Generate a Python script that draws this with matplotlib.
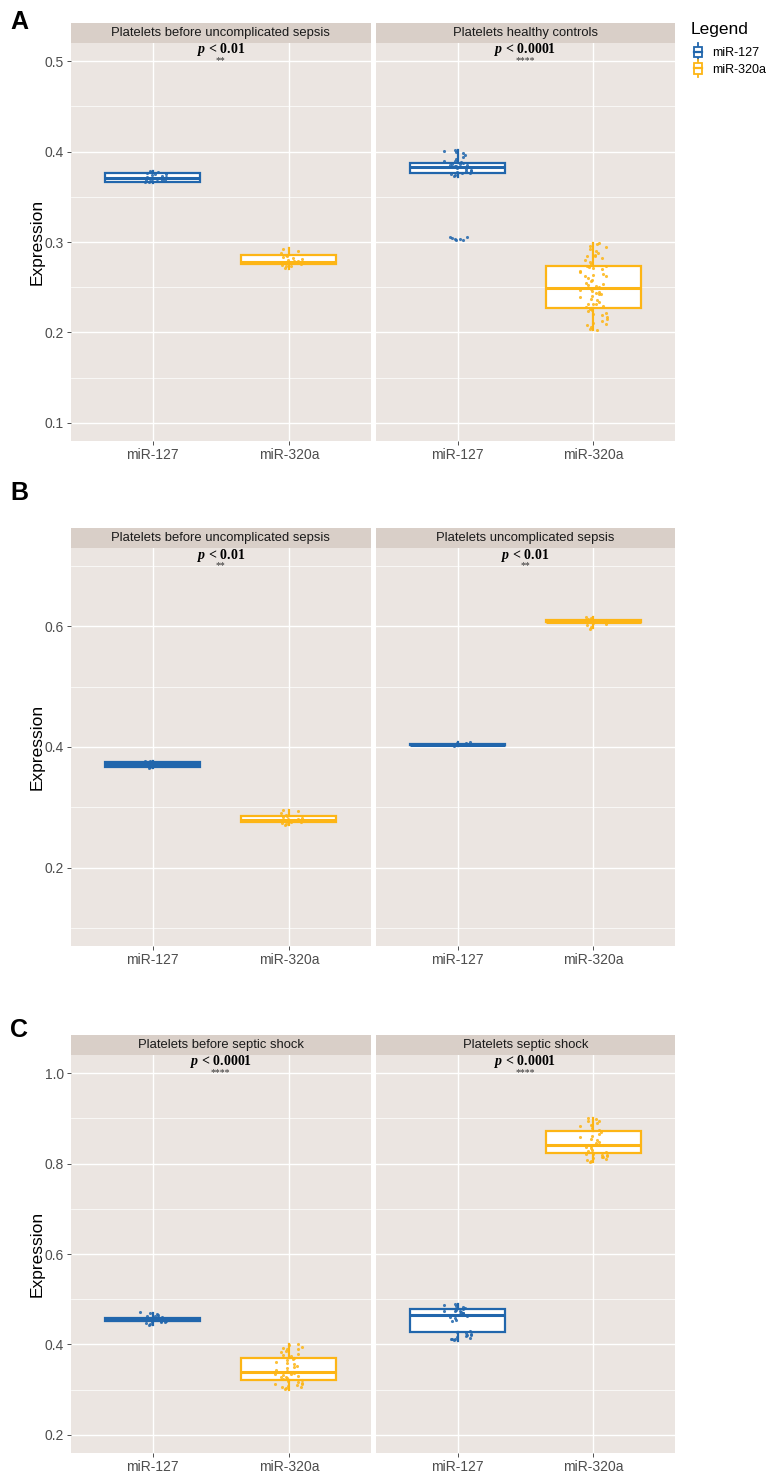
import matplotlib
matplotlib.use("Agg")
import matplotlib.pyplot as plt
import numpy as np
from matplotlib.legend_handler import HandlerBase
from matplotlib.patches import Rectangle, Patch
from matplotlib.lines import Line2D

# ---------------- data ----------------
categories = ["miR-127", "miR-320a"]
series_colors = {"miR-127": "#2166AC", "miR-320a": "#FDB515"}
panel_letters = ["A", "B", "C"]
facet_titles = [
    ["Platelets before uncomplicated sepsis", "Platelets healthy controls"],
    ["Platelets before uncomplicated sepsis", "Platelets uncomplicated sepsis"],
    ["Platelets before septic shock", "Platelets septic shock"],
]
p_values = [["0.01", "0.0001"], ["0.01", "0.01"], ["0.0001", "0.0001"]]
p_stars = [["**", "****"], ["**", "**"], ["****", "****"]]
y_ranges = [(0.1, 0.5), (0.1, 0.7), (0.2, 1.0)]
y_major = [[0.1, 0.2, 0.3, 0.4, 0.5], [0.2, 0.4, 0.6], [0.2, 0.4, 0.6, 0.8, 1.0]]
y_minor = [[0.15, 0.25, 0.35, 0.45], [0.1, 0.3, 0.5, 0.7], [0.3, 0.5, 0.7, 0.9]]

# box stats: (whislo, q1, med, q3, whishi) per panel -> facet -> category
box_A_left_127 = (0.365, 0.3663, 0.371, 0.376, 0.378)
box_A_left_320 = (0.270, 0.2755, 0.278, 0.286, 0.293)
box_A_right_127 = (0.372, 0.3759, 0.3833, 0.387, 0.402)
box_A_right_320 = (0.203, 0.227, 0.249, 0.273, 0.299)
box_B_left_127 = (0.365, 0.367, 0.371, 0.375, 0.377)
box_B_left_320 = (0.270, 0.2755, 0.279, 0.286, 0.295)
box_B_right_127 = (0.402, 0.403, 0.404, 0.405, 0.408)
box_B_right_320 = (0.597, 0.6065, 0.608, 0.611, 0.615)
box_C_left_127 = (0.442, 0.452, 0.455, 0.458, 0.470)
box_C_left_320 = (0.300, 0.322, 0.338, 0.370, 0.400)
box_C_right_127 = (0.408, 0.428, 0.465, 0.478, 0.490)
box_C_right_320 = (0.803, 0.823, 0.840, 0.871, 0.900)

# jittered observations
pts_A_left_127 = [0.366, 0.367, 0.368, 0.369, 0.370, 0.371, 0.371, 0.372, 0.373, 0.374,
                  0.375, 0.376, 0.377, 0.378, 0.366, 0.369, 0.372, 0.375, 0.377, 0.370]
pts_A_left_320 = [0.271, 0.273, 0.275, 0.276, 0.277, 0.277, 0.278, 0.278, 0.279, 0.280,
                  0.281, 0.283, 0.285, 0.286, 0.288, 0.290, 0.292, 0.274, 0.279, 0.282]
pts_A_right_127 = [0.373, 0.374, 0.375, 0.376, 0.377, 0.378, 0.379, 0.380, 0.381, 0.382,
                   0.383, 0.383, 0.384, 0.384, 0.385, 0.385, 0.386, 0.386, 0.387, 0.388,
                   0.389, 0.390, 0.392, 0.394, 0.396, 0.398, 0.400, 0.401, 0.402, 0.376,
                   0.302, 0.303, 0.304, 0.305, 0.306, 0.303, 0.302]
pts_A_right_320 = [0.204, 0.206, 0.208, 0.209, 0.211, 0.213, 0.215, 0.217, 0.219, 0.220,
                   0.222, 0.224, 0.225, 0.227, 0.228, 0.229, 0.231, 0.232, 0.234, 0.236,
                   0.237, 0.239, 0.240, 0.242, 0.243, 0.245, 0.246, 0.247, 0.248, 0.249,
                   0.250, 0.251, 0.252, 0.254, 0.255, 0.257, 0.258, 0.260, 0.262, 0.263,
                   0.265, 0.267, 0.268, 0.270, 0.271, 0.273, 0.274, 0.276, 0.278, 0.280,
                   0.282, 0.284, 0.286, 0.288, 0.290, 0.292, 0.294, 0.296, 0.298, 0.299,
                   0.203, 0.226, 0.249, 0.272, 0.285, 0.244, 0.231, 0.262]
pts_B_left_127 = [0.366, 0.367, 0.368, 0.369, 0.370, 0.370, 0.371, 0.371, 0.372, 0.372,
                  0.373, 0.374, 0.375, 0.376, 0.377, 0.369, 0.371, 0.373]
pts_B_left_320 = [0.270, 0.272, 0.274, 0.275, 0.276, 0.277, 0.278, 0.279, 0.280, 0.281,
                  0.282, 0.284, 0.286, 0.288, 0.291, 0.294, 0.296, 0.276, 0.279]
pts_B_right_127 = [0.402, 0.403, 0.403, 0.404, 0.404, 0.404, 0.405, 0.405, 0.406, 0.407,
                   0.408, 0.403, 0.405]
pts_B_right_320 = [0.596, 0.599, 0.602, 0.604, 0.606, 0.607, 0.608, 0.608, 0.609, 0.610,
                   0.611, 0.612, 0.613, 0.614, 0.615, 0.607, 0.609]
pts_C_left_127 = [0.443, 0.445, 0.447, 0.449, 0.450, 0.451, 0.452, 0.453, 0.454, 0.455,
                  0.455, 0.456, 0.457, 0.458, 0.459, 0.460, 0.462, 0.464, 0.466, 0.468,
                  0.470, 0.472, 0.453, 0.457, 0.450, 0.461]
pts_C_left_320 = [0.301, 0.303, 0.305, 0.307, 0.309, 0.311, 0.313, 0.315, 0.317, 0.319,
                  0.321, 0.323, 0.325, 0.327, 0.329, 0.331, 0.333, 0.335, 0.337, 0.339,
                  0.341, 0.344, 0.347, 0.350, 0.353, 0.356, 0.359, 0.362, 0.365, 0.368,
                  0.371, 0.374, 0.377, 0.380, 0.383, 0.386, 0.389, 0.392, 0.395, 0.398,
                  0.400, 0.334, 0.312, 0.390]
pts_C_right_127 = [0.409, 0.411, 0.413, 0.415, 0.417, 0.419, 0.421, 0.423, 0.425, 0.427,
                   0.430, 0.452, 0.455, 0.458, 0.461, 0.463, 0.465, 0.467, 0.469, 0.471,
                   0.473, 0.475, 0.477, 0.479, 0.481, 0.483, 0.485, 0.487, 0.489, 0.466,
                   0.470, 0.474, 0.412, 0.420]
pts_C_right_320 = [0.804, 0.806, 0.808, 0.810, 0.812, 0.814, 0.816, 0.818, 0.820, 0.822,
                   0.825, 0.828, 0.831, 0.834, 0.837, 0.840, 0.842, 0.845, 0.848, 0.851,
                   0.855, 0.858, 0.862, 0.866, 0.870, 0.874, 0.878, 0.882, 0.886, 0.890,
                   0.894, 0.898, 0.900, 0.815, 0.821, 0.839, 0.885, 0.893]

boxes = [
    [[box_A_left_127, box_A_left_320], [box_A_right_127, box_A_right_320]],
    [[box_B_left_127, box_B_left_320], [box_B_right_127, box_B_right_320]],
    [[box_C_left_127, box_C_left_320], [box_C_right_127, box_C_right_320]],
]
points = [
    [[pts_A_left_127, pts_A_left_320], [pts_A_right_127, pts_A_right_320]],
    [[pts_B_left_127, pts_B_left_320], [pts_B_right_127, pts_B_right_320]],
    [[pts_C_left_127, pts_C_left_320], [pts_C_right_127, pts_C_right_320]],
]

# ---------------- style ----------------
PANEL_BG = "#EBE5E1"
STRIP_BG = "#D9CFC8"
TICK_COL = "#4D4D4D"
plt.rcParams["font.family"] = ["Liberation Sans", "DejaVu Sans"]
plt.rcParams["mathtext.fontset"] = "custom"
plt.rcParams["mathtext.it"] = "Liberation Serif:italic:bold"
plt.rcParams["mathtext.rm"] = "Liberation Serif:bold"
plt.rcParams["mathtext.bf"] = "Liberation Serif:bold"

W, H = 779, 1482
fig = plt.figure(figsize=(W / 100, H / 100), dpi=100)
fig.patch.set_facecolor("white")

facet_x = [(71, 370.5), (376, 675)]
panel_y = [(43, 441), (548, 946), (1055, 1453)]
letter_y = [22, 493, 1030]
strip_h = 20


def fx(px):
    return px / W


def fy(py):
    return 1 - py / H


def jitter_offsets(n, half=0.1):
    i = np.arange(n)
    u = (i * 0.6180339887 + i * i * 0.4142135624 + 0.37) % 1.0
    return (u - 0.5) * 2 * half


for pi in range(3):
    lo, hi = y_ranges[pi]
    span = hi - lo
    ylim = (lo - 0.05 * span, hi + 0.05 * span)
    top, bot = panel_y[pi]
    for fi in range(2):
        x0, x1 = facet_x[fi]
        ax = fig.add_axes([fx(x0), fy(bot), fx(x1 - x0), (bot - top) / H])
        ax.set_facecolor(PANEL_BG)
        for s in ax.spines.values():
            s.set_visible(False)

        for ci, cat in enumerate(categories):
            col = series_colors[cat]
            wl, q1, med, q3, wh = boxes[pi][fi][ci]
            st = dict(whislo=wl, q1=q1, med=med, q3=q3, whishi=wh, fliers=[])
            ax.bxp([st], positions=[ci + 1], widths=0.7, showfliers=False,
                   showcaps=False, patch_artist=True, manage_ticks=False,
                   boxprops=dict(facecolor="white", edgecolor=col, linewidth=1.6),
                   medianprops=dict(color=col, linewidth=2.2, solid_capstyle="butt"),
                   whiskerprops=dict(color=col, linewidth=1.6))
            ys = np.array(points[pi][fi][ci])
            xs = ci + 1 + jitter_offsets(len(ys))
            ax.scatter(xs, ys, s=5, color=col, alpha=0.85, linewidths=0, zorder=5)

        ax.set_xlim(0.4, 2.6)
        ax.set_ylim(*ylim)
        ax.set_xticks([1, 2])
        ax.set_xticklabels(categories)
        ax.set_yticks(y_major[pi])
        ax.set_yticks(y_minor[pi], minor=True)
        ax.yaxis.set_major_formatter(matplotlib.ticker.FormatStrFormatter("%.1f"))
        ax.grid(which="major", color="white", linewidth=1.0)
        ax.grid(which="minor", axis="y", color="white", linewidth=0.5)
        ax.set_axisbelow(True)
        ax.tick_params(axis="both", which="major", length=2.7, width=0.6,
                       color="#333333", labelcolor=TICK_COL, labelsize=10, pad=2.5)
        ax.tick_params(axis="y", which="minor", length=0)
        if fi == 1:
            ax.tick_params(axis="y", which="major", length=0, labelleft=False)

        # p label and stars
        tr = matplotlib.transforms.blended_transform_factory(ax.transData, ax.transAxes)
        ax.text(1.5, 1 - 7 / (bot - top), r"$p$" + " < " + p_values[pi][fi],
                transform=tr, ha="center", va="center", fontsize=10,
                family="Liberation Serif", weight="bold", color="black")
        ax.text(1.5, 1 - 17.5 / (bot - top), p_stars[pi][fi],
                transform=tr, ha="center", va="center", fontsize=7,
                family="Liberation Serif", color="#333333")

        # strip
        sax = fig.add_axes([fx(x0), fy(top), fx(x1 - x0), strip_h / H])
        sax.set_facecolor(STRIP_BG)
        sax.set_xticks([])
        sax.set_yticks([])
        for s in sax.spines.values():
            s.set_visible(False)
        sax.text(0.5, 0.5, facet_titles[pi][fi], ha="center", va="center",
                 fontsize=9.4, color="#1A1A1A", transform=sax.transAxes)

    # y label
    fig.text(fx(37), fy((top + bot) / 2), "Expression", rotation=90,
             ha="center", va="center", fontsize=12.5, color="black")
    # panel letter
    fig.text(fx(10), fy(letter_y[pi]), panel_letters[pi],
             ha="left", va="center", fontsize=18, weight="bold", color="black")


# legend
class BoxKeyHandler(HandlerBase):
    def create_artists(self, legend, orig_handle, xdescent, ydescent, width, height,
                       fontsize, trans):
        col = orig_handle.get_edgecolor()
        cx = width / 2 - xdescent
        bw = width * 0.6
        arts = [
            Line2D([cx, cx], [-ydescent - 0.15 * height, -ydescent + 1.15 * height],
                   color=col, lw=1.3, transform=trans),
            Rectangle((cx - bw / 2, -ydescent + 0.1 * height), bw, 0.8 * height,
                      facecolor="white", edgecolor=col, lw=1.3, transform=trans),
            Line2D([cx - bw / 2, cx + bw / 2], [-ydescent + 0.5 * height] * 2,
                   color=col, lw=1.6, transform=trans),
        ]
        return arts


handles = [Patch(edgecolor=series_colors[c], facecolor="white") for c in categories]
leg = fig.legend(handles, categories, handler_map={Patch: BoxKeyHandler()},
                 loc="upper left", bbox_to_anchor=(fx(691), fy(22)), frameon=False,
                 title="Legend", fontsize=9, title_fontsize=12.5,
                 handlelength=1.1, handleheight=1.2, handletextpad=0.6,
                 labelspacing=0.25, borderaxespad=0, borderpad=0)
leg._legend_box.align = "left"
leg._legend_box.sep = 6

fig.savefig("out.png", dpi=100, facecolor="white")
